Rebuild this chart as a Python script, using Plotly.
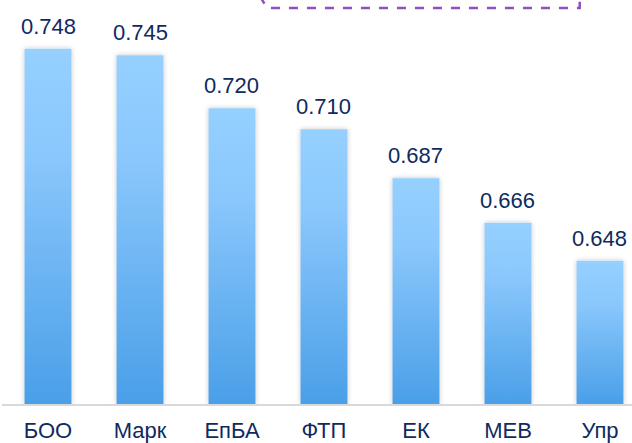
import plotly.graph_objects as go

# data
cats = ["БОО", "Марк", "ЕпБА", "ФТП", "ЕК", "МЕВ", "Упр"]
vals = [0.748, 0.745, 0.720, 0.710, 0.687, 0.666, 0.648]

y_min, y_max = 0.5805, 0.771   # value axis is not zero based in the original
navy = "#0f2a60"

fig = go.Figure(go.Bar(
    x=cats, y=[v - y_min for v in vals], base=y_min,
    width=0.51,
    marker=dict(color="#6fb6f4", line=dict(width=0)),
    hoverinfo="skip",
))

# value labels above bars
for c, v in zip(cats, vals):
    fig.add_annotation(x=c, y=v, text=f"{v:.3f}", showarrow=False,
                       yanchor="bottom", yshift=8,
                       font=dict(size=22, color=navy, family="Liberation Sans, Arial"))

# dashed rounded box peeking in at the top
fig.add_shape(type="path", xref="paper", yref="paper",
              path="M 0.409 1.01 L 0.421 0.980 L 0.917 0.980 L 0.917 1.01",
              line=dict(color="#8e50c0", width=2.5, dash="dash"))

fig.update_layout(
    width=632, height=443,
    margin=dict(l=2, r=0, t=0, b=39),
    paper_bgcolor="white", plot_bgcolor="white",
    showlegend=False,
    font=dict(family="Liberation Sans, Arial", color=navy),
    xaxis=dict(range=[-0.5, 6.348], showgrid=False, zeroline=False,
               showline=True, linecolor="#d9d9d9", linewidth=2,
               ticks="outside", ticklen=6, tickcolor="rgba(0,0,0,0)",
               tickfont=dict(size=22, color=navy)),
    yaxis=dict(range=[y_min, y_max], visible=False, showgrid=False),
)

post = """
document.body.style.margin = '0';
var gd = document.getElementById('{plot_id}');
function paint(){
  var svg = gd.querySelector('svg.main-svg');
  var ns = 'http://www.w3.org/2000/svg';
  if (!document.getElementById('bargrad')) {
    var defs = document.createElementNS(ns, 'defs');
    defs.innerHTML = '<linearGradient id="bargrad" x1="0" y1="0" x2="0" y2="1">' +
      '<stop offset="0" stop-color="#95d0ff"/>' +
      '<stop offset="0.3" stop-color="#8ac7fc"/>' +
      '<stop offset="1" stop-color="#4a9fe8"/></linearGradient>' +
      '<filter id="barshadow" x="-30%" y="-10%" width="160%" height="120%">' +
      '<feDropShadow dx="0" dy="0" stdDeviation="2.5" flood-color="#000" flood-opacity="0.22"/></filter>';
    svg.insertBefore(defs, svg.firstChild);
  }
  gd.querySelectorAll('.trace.bars .point path').forEach(function(p){
    p.style.fill = 'url(#bargrad)';
    p.style.filter = 'url(#barshadow)';
  });
}
paint();
gd.on('plotly_afterplot', paint);
"""

fig.write_html("out.html", post_script=post, config={"displayModeBar": False})
